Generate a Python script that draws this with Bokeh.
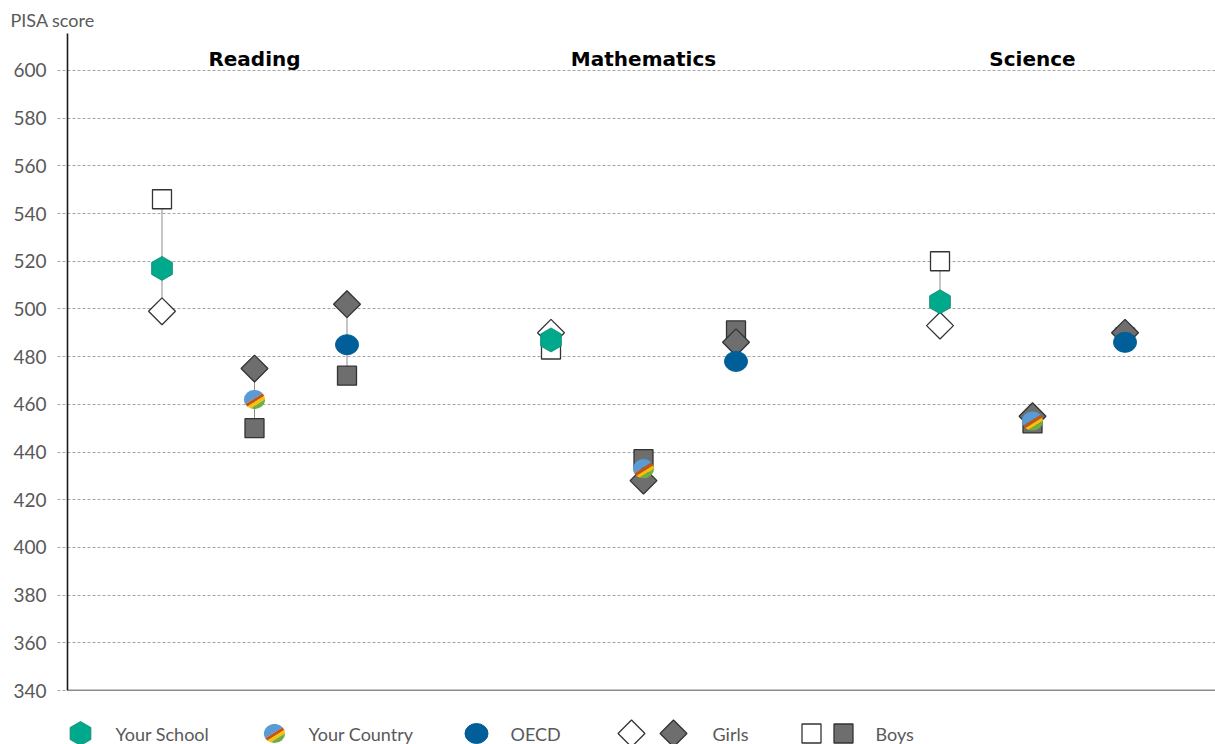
import base64
import numpy as np
from bokeh.plotting import figure
from bokeh.models import Range1d, Span, Title, FixedTicker
from bokeh.layouts import column
from bokeh.embed import file_html
from bokeh.resources import INLINE
from bokeh.core.properties import value

# ---------------- data ----------------
subjects = ["Reading", "Mathematics", "Science"]
school_mean = [517, 487, 503]
school_girls = [499, 490, 493]
school_boys = [546, 483, 520]
country_mean = [462, 433, 453]
country_girls = [475, 428, 455]
country_boys = [450, 437, 452]
oecd_mean = [485, 478, 486]
oecd_girls = [502, 486, 490]
oecd_boys = [472, 491, 488]
y_ticks = list(range(340, 601, 20))
legend_labels = ["Your School", "Your Country", "OECD", "Girls", "Boys"]

# ---------------- style ----------------
FONT = "Lato"
TEAL = "#00A98B"
BLUE = "#005E98"
GRAY = "#6E6E6E"
EDGE = "#333333"
TXT = "#595959"
OFF = 0.2378

stripe_svg = (
    "<svg xmlns='http://www.w3.org/2000/svg' width='44' height='40' viewBox='0 0 22 20'>"
    "<defs><clipPath id='c'><ellipse cx='11' cy='10' rx='10.6' ry='9.6'/></clipPath></defs>"
    "<g clip-path='url(#c)'><g transform='rotate(-32 11 10)'>"
    "<rect x='-15' y='-15' width='52' height='24' fill='#5B9BD5'/>"
    "<rect x='-15' y='9' width='52' height='3.2' fill='#C0561A'/>"
    "<rect x='-15' y='12.2' width='52' height='3.2' fill='#FFC000'/>"
    "<rect x='-15' y='15.4' width='52' height='25' fill='#70AD47'/>"
    "</g></g></svg>"
)
STRIPE_URL = "data:image/svg+xml;base64," + base64.b64encode(stripe_svg.encode()).decode()

x_start = -0.4807
x_end = 2.4704

p = figure(width=1215, height=702, x_range=Range1d(x_start, x_end), y_range=Range1d(340, 615.5),
           output_backend="svg", toolbar_location=None,
           min_border_left=67, min_border_right=0, min_border_top=33, min_border_bottom=12)
p.outline_line_color = None
p.xaxis.visible = False
p.xgrid.visible = False
p.ygrid.grid_line_color = "#A6A6A6"
p.ygrid.grid_line_dash = "3 2"
p.ygrid.grid_line_width = 1
p.yaxis.ticker = FixedTicker(ticks=y_ticks)
p.yaxis.axis_line_color = "#1a1a1a"
p.yaxis.axis_line_width = 1.6
p.yaxis.major_tick_out = 10
p.yaxis.major_tick_in = 0
p.yaxis.minor_tick_line_color = None
p.yaxis.major_tick_line_color = "#A6A6A6"
p.yaxis.major_tick_line_dash = "3 2"
p.yaxis.major_label_standoff = 11
p.yaxis.major_label_text_font = FONT
p.yaxis.major_label_text_font_size = "19px"
p.yaxis.major_label_text_color = TXT

p.add_layout(Span(location=340, dimension="width", line_color="#1a1a1a", line_width=1.6))

p.add_layout(Title(text="PISA score", align="left", offset=-57, standoff=6,
                   text_font=FONT, text_font_size="18px", text_color=TXT,
                   text_font_style="normal"), "above")

groups = np.arange(len(subjects))
series = [
    (school_mean, school_girls, school_boys, -OFF, "white"),
    (country_mean, country_girls, country_boys, 0.0, GRAY),
    (oecd_mean, oecd_girls, oecd_boys, OFF, GRAY),
]
for k, (mean, girls, boys, off, gb_fill) in enumerate(series):
    xs = list(groups + off)
    p.segment(x0=xs, y0=girls, x1=xs, y1=boys, line_color="#8C8C8C", line_width=1)
    p.scatter(x=xs, y=boys, marker="square", size=19, fill_color=gb_fill,
              line_color=EDGE, line_width=1.3)
    p.scatter(x=xs, y=girls, marker="square", angle=np.pi / 4, size=19, fill_color=gb_fill,
              line_color=EDGE, line_width=1.3)
    if k == 0:
        p.scatter(x=xs, y=mean, marker="hex", angle=np.pi / 2, size=24, fill_color=TEAL,
                  line_color="#0B8A70", line_width=0.8)
    elif k == 1:
        p.image_url(url=[STRIPE_URL] * len(xs), x=xs, y=mean, w=22, h=20,
                    w_units="screen", h_units="screen", anchor="center")
    else:
        p.ellipse(x=xs, y=mean, width=23, height=20, width_units="screen", height_units="screen",
                  fill_color=BLUE, line_color=BLUE)

p.text(x=list(groups), y=[604.6] * len(subjects), text=subjects, text_font=value("DejaVu Sans"),
       text_font_style="bold", text_font_size="20px", text_align="center",
       text_baseline="middle", text_color="black")

# ---------------- legend ----------------
# legend strip: frame aligned with the main plot, x expressed in page pixels
lg = figure(width=1215, height=42, x_range=Range1d(67, 1215), y_range=Range1d(0, 42),
            output_backend="svg", toolbar_location=None, min_border=0,
            min_border_left=67, min_border_right=0)
lg.axis.visible = False
lg.grid.visible = False
lg.outline_line_color = None
ly = 11
lg.scatter(x=[80], y=[ly], marker="hex", angle=np.pi / 2, size=24, fill_color=TEAL,
           line_color="#0B8A70", line_width=0.8)
lg.image_url(url=[STRIPE_URL], x=[274], y=[ly], w=22, h=20, w_units="screen", h_units="screen",
             anchor="center")
lg.ellipse(x=[476], y=[ly], width=23, height=20, width_units="screen", height_units="screen",
           fill_color=BLUE, line_color=BLUE)
lg.scatter(x=[631, 673], y=[ly, ly], marker="square", angle=np.pi / 4, size=19,
           fill_color=["white", GRAY], line_color=EDGE, line_width=1.3)
lg.scatter(x=[811, 843], y=[ly, ly], marker="square", size=19,
           fill_color=["white", GRAY], line_color=EDGE, line_width=1.3)
lg.text(x=[115, 308, 510, 712, 875], y=[ly] * 5, text=legend_labels, text_font=value(FONT),
        text_font_size="18px", text_color=TXT, text_baseline="middle", text_align="left")

layout = column(p, lg, spacing=0)
open("out.html", "w").write(file_html(layout, INLINE))
